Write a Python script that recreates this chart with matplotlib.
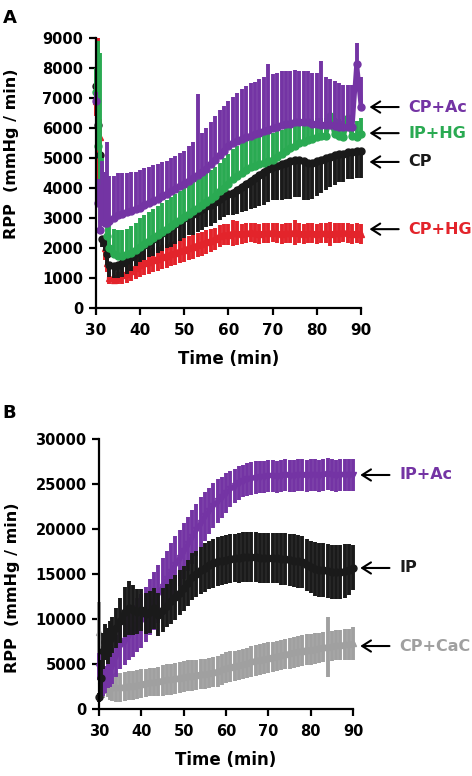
import numpy as np
import matplotlib
matplotlib.use('Agg')
import matplotlib.pyplot as plt

plt.rcParams['font.family'] = ['DejaVu Sans']
plt.rcParams['font.weight'] = 'bold'

# sampling times (min): half-minute steps at the start, then each minute
time = [30, 30.5, 31, 31.5, 32, 32.5, 33] + list(range(34, 91))

# ---- Panel A ----
cp_ac_mean = [6900, 3500, 2600, 2900, 2850, 2850, 2900,
              3000, 3100, 3150, 3200, 3250, 3300, 3350,
              3430, 3500, 3580, 3650, 3730, 3800, 3900, 3980, 4060, 4150,
              4250, 4350, 4450, 4550, 4650, 4800, 4950, 5100, 5250, 5400,
              5500, 5580, 5650, 5700, 5750, 5800, 5850, 5900, 5950, 6000,
              6050, 6100, 6150, 6150, 6200, 6200, 6200, 6200, 6150, 6150,
              6100, 6100, 6100, 6080, 6050, 6050, 6030, 6050, 8150, 6700]
cp_ac_err = [300, 800, 1500, 2000, 1700, 2700, 1500,
             1400, 1400, 1350, 1300, 1300, 1250, 1250,
             1250, 1200, 1200, 1150, 1150, 1100, 1100, 1100, 1100, 1100,
             1150, 1200, 2700, 1300, 1350, 1400, 1450, 1500, 1500, 1500,
             1550, 1600, 1650, 1700, 1750, 1750, 1800, 1800, 2200, 1800,
             1800, 1800, 1750, 1750, 1750, 1700, 1700, 1700, 1700, 1700,
             2150, 1600, 1550, 1500, 1450, 1400, 1400, 1400, 700, 1000]

ip_hg_mean = [7200, 5400, 4000, 3500, 3000, 2400, 2000,
              1800, 1750, 1750, 1800, 1850, 1950, 2050,
              2150, 2250, 2350, 2450, 2550, 2650, 2750, 2850, 2950, 3050,
              3150, 3250, 3350, 3450, 3550, 3650, 3750, 3900, 4000, 4150,
              4300, 4400, 4500, 4600, 4700, 4750, 4800, 4850, 4900, 4950,
              5050, 5150, 5250, 5350, 5400, 5500, 5550, 5600, 5650, 5700,
              5750, 5750, 6400, 5800, 5750, 5700, 6350, 5750, 5700, 5800]
ip_hg_err = [800, 3500, 4500, 1500, 1000, 900, 900,
             850, 850, 850, 850, 900, 900, 950,
             950, 950, 950, 950, 950, 950, 950, 950, 950, 950,
             950, 950, 950, 950, 950, 950, 950, 950, 1000, 1000,
             1000, 1000, 1000, 1000, 1000, 1000, 1000, 1000, 950, 900,
             850, 800, 800, 750, 750, 700, 700, 700, 650, 650,
             600, 600, 0, 550, 550, 550, 0, 550, 550, 550]

cp_mean = [7400, 6100, 5100, 2300, 2200, 1800, 1450,
           1400, 1450, 1500, 1600, 1700, 1850, 2000,
           2100, 2200, 2300, 2400, 2500, 2600, 2700, 2800, 2900, 3000,
           3100, 3150, 3250, 3300, 3400, 3450, 3550, 3650, 3750, 3800,
           3850, 3950, 4050, 4150, 4250, 4350, 4450, 4550, 4650, 4700,
           4750, 4800, 4850, 4900, 4950, 4950, 4900, 4850, 4850, 4900,
           4950, 5000, 5050, 5100, 5150, 5150, 5200, 5200, 5250, 5250]
cp_err = [200, 300, 300, 250, 300, 350, 400,
          400, 450, 450, 450, 450, 450, 450,
          500, 500, 550, 550, 600, 600, 650, 650, 650, 670,
          680, 700, 700, 700, 700, 700, 700, 700, 700, 700,
          750, 800, 850, 900, 950, 1000, 1050, 1100, 1100, 1100,
          1150, 1200, 1200, 1250, 1250, 1250, 1300, 1250, 1200, 1150,
          1100, 1050, 1000, 1000, 950, 950, 900, 900, 900, 900]

cp_hg_mean = [6900, 6200, 5700, 4400, 2000, 1500, 1000,
              950, 1000, 1100, 1150, 1250, 1350, 1450,
              1500, 1550, 1600, 1650, 1700, 1750, 1800, 1850, 1900, 1950,
              2000, 2050, 2100, 2150, 2200, 2250, 2300, 2400, 2450, 2450,
              2500, 2500, 2480, 2500, 2520, 2500, 2480, 2500, 2500, 2520,
              2500, 2480, 2500, 2500, 2520, 2500, 2480, 2500, 2500, 2480,
              2500, 2500, 2480, 2500, 2500, 2520, 2500, 2480, 2500, 2480]
cp_hg_err = [500, 2800, 600, 500, 400, 300, 200,
             150, 200, 300, 330, 350, 370, 400,
             400, 400, 400, 400, 400, 400, 400, 400, 400, 400,
             400, 400, 400, 400, 400, 380, 380, 360, 350, 350,
             420, 400, 330, 330, 330, 330, 330, 330, 330, 330,
             330, 330, 330, 330, 420, 330, 330, 330, 330, 330,
             330, 330, 400, 330, 330, 330, 330, 330, 330, 330]

# ---- Panel B ----
ip_ac_mean = [4700, 2600, 2900, 3300, 3800, 4300, 4800,
              5900, 7000, 7600, 8200, 8700, 9300, 9800,
              10500, 11300, 12000, 12800, 13600, 14400, 15200, 16000, 16800, 17600,
              18300, 19100, 19900, 20700, 21400, 22000, 22600, 23100, 23500, 24000,
              24400, 24800, 25100, 25300, 25500, 25600, 25700, 25800, 25800, 25900,
              25900, 25800, 25900, 26000, 25900, 25900, 26000, 26000, 25900, 26000,
              26000, 25900, 26000, 26100, 26000, 25900, 26000, 26000, 26000, 26000]
ip_ac_err = [1500, 1500, 1500, 1500, 1500, 1800, 2000,
             2300, 2500, 2700, 2800, 2900, 3000, 3000,
             3100, 3100, 3200, 3200, 3200, 3200, 3200, 3200, 3100, 3100,
             3000, 3000, 2900, 2800, 2700, 2600, 2500, 2400, 2300, 2200,
             2000, 1900, 1900, 1800, 1800, 1800, 1800, 1800, 1800, 1800,
             1800, 1800, 1800, 1800, 1800, 1800, 1800, 1800, 1800, 1800,
             1800, 1800, 1800, 1800, 1800, 1800, 1800, 1800, 1800, 1800]

ip_mean = [1300, 3500, 6500, 7500, 7000, 7800, 8200,
           9000, 9800, 10800, 11200, 11000, 10800, 11000,
           10600, 10800, 11200, 10500, 11000, 11500, 12000, 12400, 12900, 13400,
           14000, 14700, 15000, 15400, 15700, 16000, 16200, 16400, 16500, 16600,
           16700, 16800, 16800, 16900, 16900, 16900, 16900, 16800, 16800, 16800,
           16800, 16800, 16700, 16700, 16600, 16500, 16400, 16300, 16000, 15800,
           15600, 15500, 15400, 15300, 15200, 15200, 15200, 15300, 15500, 15700]
ip_err = [500, 2000, 2000, 2000, 2000, 2000, 2000,
          2200, 2500, 2800, 3000, 2800, 2500, 2300,
          2300, 2300, 2300, 2400, 2400, 2400, 2500, 2500, 2500, 2500,
          2600, 2600, 2600, 2600, 2700, 2700, 2700, 2700, 2700, 2700,
          2700, 2700, 2800, 2800, 2800, 2800, 2800, 2800, 2800, 2800,
          2800, 2800, 2900, 2900, 2900, 2900, 2900, 2900, 2900, 2900,
          3000, 3000, 3000, 3000, 3000, 3000, 3000, 3000, 2800, 2500]

cp_cac_mean = [8600, 5000, 2700, 3200, 2800, 2500, 2400,
               2400, 2400, 2500, 2600, 2600, 2700, 2800,
               2900, 3000, 3000, 3100, 3200, 3300, 3300, 3400, 3500, 3600,
               3700, 3700, 3800, 3900, 3900, 4000, 4100, 4200, 4400, 4600,
               4700, 4800, 4900, 5000, 5100, 5300, 5400, 5500, 5600, 5700,
               5800, 5900, 6000, 6100, 6200, 6300, 6400, 6500, 6600, 6600,
               6700, 6800, 6900, 6900, 7000, 7100, 7100, 7200, 7200, 7300]
cp_cac_err = [3300, 2000, 1500, 1500, 1500, 1500, 1500,
              1600, 1600, 1600, 1600, 1600, 1600, 1600,
              1600, 1600, 1600, 1600, 1700, 1700, 1700, 1700, 1700, 1700,
              1700, 1700, 1700, 1700, 1700, 1700, 1700, 1700, 1700, 1700,
              1700, 1700, 1700, 1700, 1700, 1700, 1700, 1700, 1700, 1700,
              1700, 1700, 1700, 1700, 1700, 1700, 1700, 1700, 1700, 1700,
              1700, 1700, 1700, 3300, 1700, 1700, 1700, 1700, 1700, 1800]

PURPLE = '#7434a4'
GREEN = '#2aaa52'
RED = '#e3242b'
BLACK = '#1a1a1a'
GRAY = '#a0a0a0'


def draw_series(ax, mean, err, color, marker, direction, z):
    """errorbar en bande: direction = 'up', 'down' ou 'both'"""
    mean = np.array(mean, dtype=float)
    err = np.array(err, dtype=float)
    zero = np.zeros_like(err)
    lower = err if direction in ('down', 'both') else zero
    upper = err if direction in ('up', 'both') else zero
    ax.errorbar(time, mean, yerr=[lower, upper], fmt='none', ecolor=color,
                elinewidth=2.8, capsize=0, clip_on=False, zorder=z)
    # marqueurs serrés -> trait épais continu
    ax.plot(time[6:], mean[6:], '-', color=color, lw=3.4, solid_capstyle='round',
            clip_on=False, zorder=z + 0.1)
    ax.plot(time, mean, marker, color=color, mec=color, ms=5, ls='none',
            clip_on=False, zorder=z + 0.2)


def style_axis(ax, ymax, ystep, xfs, yfs):
    ax.set_xlim(30, 90)
    ax.set_ylim(0, ymax)
    ax.set_xticks(range(30, 91, 10))
    ax.set_yticks(range(0, ymax + 1, ystep))
    ax.spines['top'].set_visible(False)
    ax.spines['right'].set_visible(False)
    for s in ('left', 'bottom'):
        ax.spines[s].set_linewidth(1.6)
        ax.spines[s].set_zorder(10)
    ax.tick_params(width=1.6, length=5, direction='out')
    ax.tick_params(axis='x', labelsize=xfs, pad=6)
    ax.tick_params(axis='y', labelsize=yfs, pad=4)
    for lab in ax.get_xticklabels() + ax.get_yticklabels():
        lab.set_fontweight('bold')


def label_arrow(ax, text, y, color, xtip, xtext):
    ax.annotate(text, xy=(xtip, y), xytext=(xtext, y), ha='left', va='center',
                fontsize=11.5, fontweight='bold', color=color,
                annotation_clip=False,
                arrowprops=dict(arrowstyle='->,head_length=0.55,head_width=0.35',
                                color='black', lw=1.5, shrinkA=5, shrinkB=0))


fig = plt.figure(figsize=(4.72, 7.76), dpi=100)

# Panel A
axA = fig.add_axes([0.203, 0.603, 0.562, 0.348])
draw_series(axA, cp_hg_mean, cp_hg_err, RED, '^', 'both', 2)
draw_series(axA, cp_mean, cp_err, BLACK, 'o', 'down', 3)
draw_series(axA, ip_hg_mean, ip_hg_err, GREEN, 'o', 'up', 4)
draw_series(axA, cp_ac_mean, cp_ac_err, PURPLE, 'o', 'up', 5)
style_axis(axA, 9000, 1000, 11, 10.5)
axA.set_xlabel('Time (min)', fontsize=12, fontweight='bold')
axA.xaxis.set_label_coords(0.5, -0.155)
axA.set_ylabel('RPP  (mmHg / min)', fontsize=11.5, fontweight='bold')
axA.yaxis.set_label_coords(-0.29, 0.57)
label_arrow(axA, 'CP+Ac', 6700, PURPLE, 91.9, 100.7)
label_arrow(axA, 'IP+HG', 5830, GREEN, 91.9, 100.7)
label_arrow(axA, 'CP', 4870, BLACK, 91.9, 100.7)
label_arrow(axA, 'CP+HG', 2630, RED, 91.9, 100.7)

# Panel B
axB = fig.add_axes([0.21, 0.0863, 0.538, 0.348])
draw_series(axB, cp_cac_mean, cp_cac_err, GRAY, '^', 'both', 2)
draw_series(axB, ip_ac_mean, ip_ac_err, PURPLE, 'v', 'both', 3)
draw_series(axB, ip_mean, ip_err, BLACK, 'o', 'both', 4)
style_axis(axB, 30000, 5000, 10.5, 10.5)
axB.set_xlabel('Time (min)', fontsize=12, fontweight='bold')
axB.xaxis.set_label_coords(0.5, -0.155)
axB.set_ylabel('RPP  (mmHg / min)', fontsize=11.5, fontweight='bold')
axB.yaxis.set_label_coords(-0.31, 0.45)
label_arrow(axB, 'IP+Ac', 26000, PURPLE, 91.7, 100.9)
label_arrow(axB, 'IP', 15670, BLACK, 91.7, 100.9)
label_arrow(axB, 'CP+CaC', 7000, GRAY, 91.7, 100.9)

fig.text(0.006, 1 - 9 / 776, 'A', fontsize=13, fontweight='bold', va='top')
fig.text(0.006, 1 - 404 / 776, 'B', fontsize=13, fontweight='bold', va='top')

fig.savefig('out.png', dpi=100)
